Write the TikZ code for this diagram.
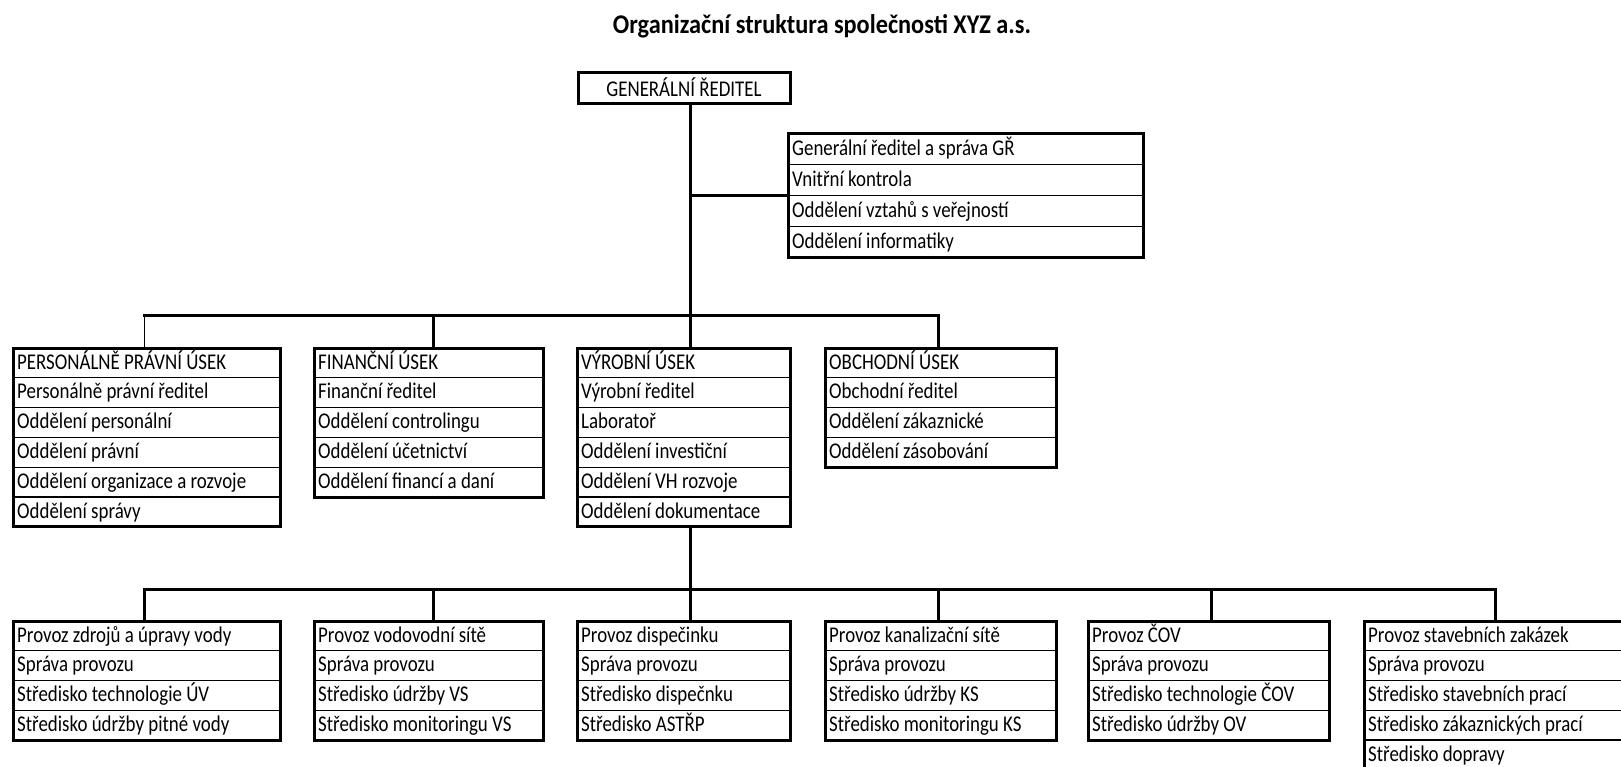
\documentclass[tikz,border=0pt]{standalone}
\usepackage{fontspec}
\setmainfont{Carlito}[FakeStretch=0.84]
\newfontfamily\titlefont{Carlito}[FakeStretch=0.9]
\usetikzlibrary{calc}

% one unit = one pixel of the chart; \rh = row height, \bo = baseline offset in a row
\def\rh{29.8}
\def\bo{21}

\tikzset{
  frame/.style={draw, line width=3pt, inner sep=0pt, outer sep=0pt, anchor=north west},
  rowtxt/.style={anchor=base west, inner sep=0pt, font=\fontsize{22.5}{26}\selectfont},
  link/.style={line width=3pt, line cap=rect},
  thinlink/.style={line width=1pt},
}

% #1 name, #2 left, #3 top, #4 width, #5 index of the heavier row rule (0 = none), #6 rows
\newcommand\orgbox[6]{%
  \foreach \t [count=\i] in {#6}{%
    \node[rowtxt] (#1-\i) at ({#2+4},{-#3-(\i-1)*\rh-\bo}) {\t};
    \xdef\nrows{\i}%
  }%
  \foreach \k in {1,...,\nrows}{%
    \ifnum\k<\nrows\relax
      \ifnum\k=#5\relax\def\lw{2}\else\def\lw{1}\fi
      \draw[line width=\lw pt] ({#2},{-#3-\k*\rh}) -- ++(#4,0);
    \fi
  }%
  \node[frame, minimum width=#4pt, minimum height=\nrows*\rh pt] (#1) at (#2,-#3) {};
}

\begin{document}
\begin{tikzpicture}[x=1pt,y=1pt]
\useasboundingbox (0,0) rectangle (1621,-766);
\clip (0,0) rectangle (1621,-766);

\node[anchor=base, inner sep=0pt, font=\titlefont\bfseries\fontsize{27}{32}\selectfont]
  (title) at (822,-33) {Organizační struktura společnosti XYZ a.s.};

% top of the hierarchy
\node[frame, minimum width=212pt, minimum height=31pt,
      font=\fontsize{22.5}{26}\selectfont] (gr) at (578,-72) {GENERÁLNÍ ŘEDITEL};

\def\rh{31}\def\bo{22}
\orgbox{staff}{788}{133}{355}{0}{Generální ředitel a správa GŘ,Vnitřní kontrola,Oddělení vztahů s veřejností,Oddělení informatiky}
\def\rh{29.8}\def\bo{21}

% divisions
\orgbox{ppu}{13}{348}{267}{5}{PERSONÁLNĚ PRÁVNÍ ÚSEK,Personálně právní ředitel,Oddělení personální,Oddělení právní,Oddělení organizace a rozvoje,Oddělení správy}
\orgbox{fu}{314}{348}{229}{0}{FINANČNÍ ÚSEK,Finanční ředitel,Oddělení controlingu,Oddělení účetnictví,Oddělení financí a daní}
\orgbox{vu}{577}{348}{213}{5}{VÝROBNÍ ÚSEK,Výrobní ředitel,Laboratoř,Oddělení investiční,Oddělení VH rozvoje,Oddělení dokumentace}
\orgbox{ou}{825}{348}{231}{0}{OBCHODNÍ ÚSEK,Obchodní ředitel,Oddělení zákaznické,Oddělení zásobování}

% operations
\orgbox{zdr}{13}{621}{267}{0}{Provoz zdrojů a úpravy vody,Správa provozu,Středisko technologie ÚV,Středisko údržby pitné vody}
\orgbox{vod}{314}{621}{229}{0}{Provoz vodovodní sítě,Správa provozu,Středisko údržby VS,Středisko monitoringu VS}
\orgbox{dis}{577}{621}{213}{0}{Provoz dispečinku,Správa provozu,Středisko dispečnku,Středisko ASTŘP}
\orgbox{kan}{825}{621}{231}{0}{Provoz kanalizační sítě,Správa provozu,Středisko údržby KS,Středisko monitoringu KS}
\orgbox{cov}{1088}{621}{241}{0}{Provoz ČOV,Správa provozu,Středisko technologie ČOV,Středisko údržby OV}
\orgbox{sta}{1364}{621}{280}{4}{Provoz stavebních zakázek,Správa provozu,Středisko stavebních prací,Středisko zákaznických prací,Středisko dopravy}

% junctions
\coordinate (j1) at (690,-315);
\coordinate (j2) at (690,-589);
\coordinate (d-ppu) at (144,-315);
\coordinate (d-fu) at (433,-315);
\coordinate (d-ou) at (938,-315);
\coordinate (d-zdr) at (144,-589);
\coordinate (d-vod) at (433,-589);
\coordinate (d-kan) at (938,-589);
\coordinate (d-cov) at (1211,-589);
\coordinate (d-sta) at (1495,-589);

% connectors
\draw[link] (j1 |- gr.south) -- (j1 |- vu.north);
\draw[link] (j1 |- staff.west) -- (staff.west);
\draw[link] (d-ppu) -- (d-ou) -- (d-ou |- ou.north);
\draw[thinlink] (d-ppu) -- (d-ppu |- ppu.north);
\draw[link] (d-fu) -- (d-fu |- fu.north);

\draw[link] (j2 |- vu.south) -- (j2 |- dis.north);
\draw[link] (d-zdr |- zdr.north) -- (d-zdr) -- (d-sta) -- (d-sta |- sta.north);
\draw[link] (d-vod) -- (d-vod |- vod.north);
\draw[link] (d-kan) -- (d-kan |- kan.north);
\draw[link] (d-cov) -- (d-cov |- cov.north);
\end{tikzpicture}
\end{document}
